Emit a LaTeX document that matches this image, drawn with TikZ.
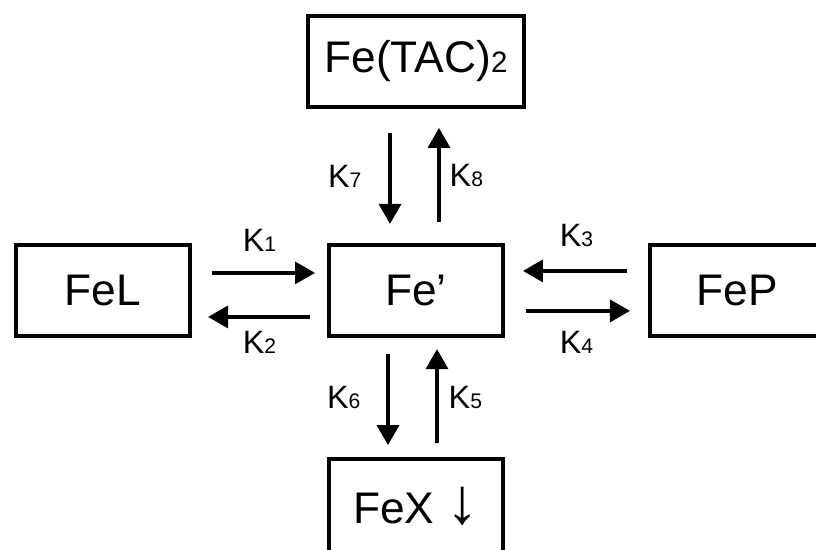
\documentclass[tikz,border=0pt]{standalone}
\usepackage{fontspec}
\setmainfont{Liberation Sans}
\usetikzlibrary{arrows.meta,positioning}
\newcommand{\kc}[1]{K{\fontsize{15}{16}\selectfont #1}}

\begin{document}
\begin{tikzpicture}[line width=2.4pt,>={Triangle[length=0.5cm,width=0.55cm]}]
    \tikzstyle{sp}=[draw,line width=2.8pt,minimum width=4.35cm,minimum height=2.28cm,inner sep=0pt,font=\fontsize{31.5}{36}\selectfont]
    \tikzstyle{k}=[inner sep=0pt,font=\fontsize{23}{25}\selectfont]
    \useasboundingbox (0,0) rectangle (20.4,-13.725);
    \clip (0,0) rectangle (20.4,-13.725);
    \node[sp] (fe) at (10.4,-7.2625) {Fe’};
    \node[sp,minimum width=5.4cm,above=3.35cm of fe] (tac) {Fe(TAC){\fontsize{21}{22}\selectfont 2}};
    \node[sp,left=3.375cm of fe]  (fel) {FeL};
    \node[sp,minimum width=5.2cm,right=3.575cm of fe] (fep) {FeP\kern0.85cm\mbox{}};
    \node[sp,minimum height=3cm,text height=0.7cm,text depth=0.5cm,below=2.975cm of fe] (fex) {FeX {\fontsize{46}{46}\selectfont ↓}};
    \draw[->,shorten <=0.5cm,shorten >=0.3cm] ([yshift=0.44cm]fel.east) -- ([yshift=0.44cm]fe.west) node[k,midway,above=0.5cm] {\kc{1}};
    \draw[->,shorten <=0.425cm,shorten >=0.4cm] ([yshift=-0.66cm]fe.west) -- ([yshift=-0.66cm]fel.east) node[k,midway,below=0.325cm] {\kc{2}};
    \draw[->,shorten <=0.525cm,shorten >=0.45cm] ([yshift=0.49cm]fep.west) -- ([yshift=0.49cm]fe.east) node[k,midway,above=0.575cm] {\kc{3}};
    \draw[->,shorten <=0.525cm,shorten >=0.45cm] ([yshift=-0.51cm]fe.east) -- ([yshift=-0.51cm]fep.west) node[k,midway,below=0.475cm] {\kc{4}};
    \draw[->,shorten <=0.35cm,shorten >=0.275cm] ([xshift=0.525cm]fex.north) -- ([xshift=0.525cm]fe.south) node[k,midway,right=0.25cm] {\kc{5}};
    \draw[->,shorten <=0.4cm,shorten >=0.3cm] ([xshift=-0.7cm]fe.south) -- ([xshift=-0.7cm]fex.north) node[k,midway,left=0.65cm] {\kc{6}};
    \draw[->,shorten <=0.6cm,shorten >=0.475cm] ([xshift=-0.65cm]tac.south) -- ([xshift=-0.65cm]fe.north) node[k,midway,left=0.675cm] {\kc{7}};
    \draw[->,shorten <=0.525cm,shorten >=0.475cm] ([xshift=0.575cm]fe.north) -- ([xshift=0.575cm]tac.south) node[k,midway,right=0.225cm] {\kc{8}};
\end{tikzpicture}
\end{document}
